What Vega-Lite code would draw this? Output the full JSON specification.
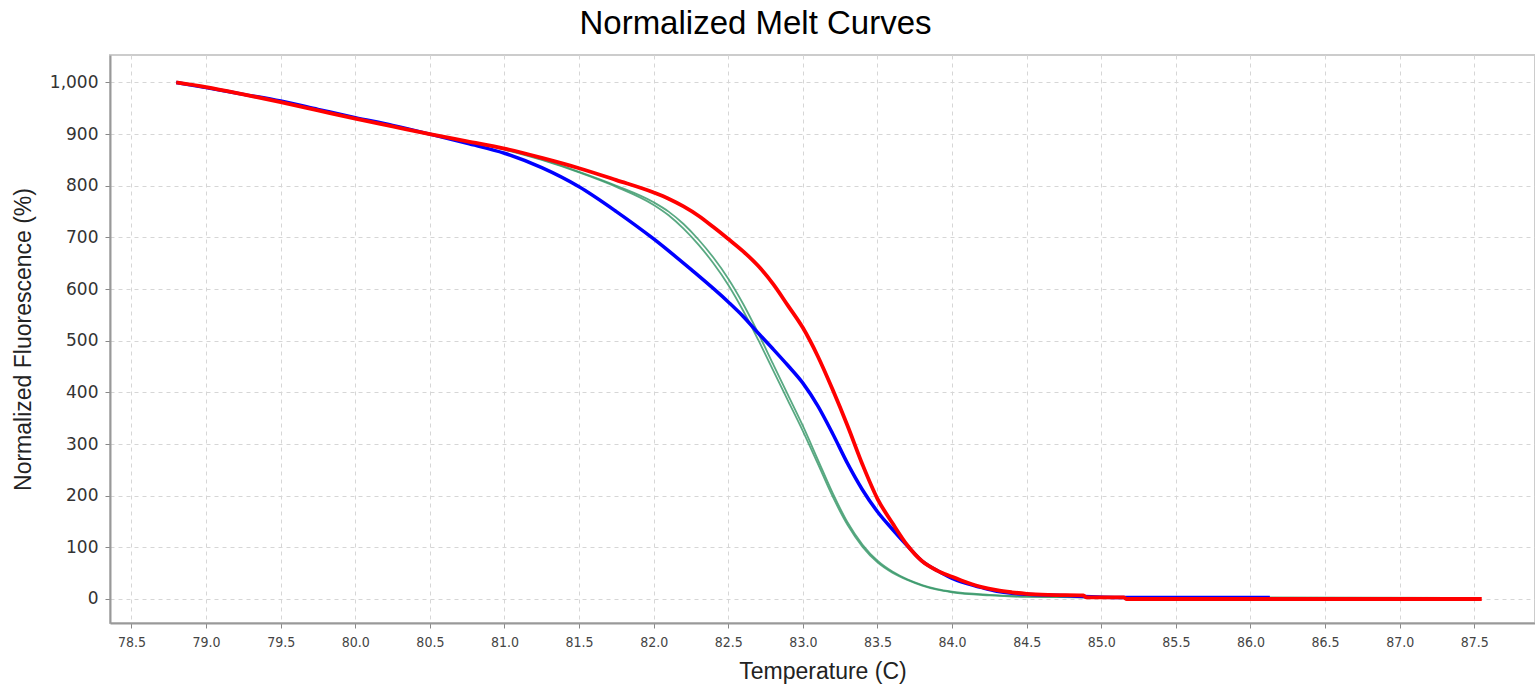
{
  "$schema": "https://vega.github.io/schema/vega-lite/v6.json",
  "width": 1425,
  "height": 568,
  "autosize": "none",
  "padding": {"left": 110, "top": 55, "right": 0, "bottom": 63},
  "background": "white",
  "title": {
    "text": "Normalized Melt Curves",
    "font": "Liberation Sans",
    "fontSize": 33,
    "fontWeight": "normal",
    "color": "#000000",
    "frame": "group",
    "anchor": "middle",
    "dx": -67,
    "dy": 30,
    "baseline": "alphabetic",
    "offset": 18
  },
  "config": {
    "view": {"stroke": "#cccccc", "strokeWidth": 2},
    "axis": {
      "grid": true,
      "gridColor": "#d6d6d6",
      "gridDash": [4, 4],
      "gridWidth": 1,
      "domainColor": "#999999",
      "domainWidth": 2,
      "tickColor": "#888888",
      "tickSize": 5,
      "titleFont": "Liberation Sans",
      "titleFontSize": 23,
      "titleFontWeight": "normal",
      "titleColor": "#222222"
    }
  },
  "data": {
    "values": [
      {"series": "red", "t": 78.80, "f": 1000}, {"series": "red", "t": 79.00, "f": 991}, {"series": "red", "t": 79.25, "f": 977}, {"series": "red", "t": 79.50, "f": 962}, {"series": "red", "t": 79.75, "f": 946}, {"series": "red", "t": 80.00, "f": 930}, {"series": "red", "t": 80.25, "f": 915}, {"series": "red", "t": 80.50, "f": 900}, {"series": "red", "t": 80.75, "f": 886}, {"series": "red", "t": 81.00, "f": 872}, {"series": "red", "t": 81.25, "f": 854}, {"series": "red", "t": 81.50, "f": 834}, {"series": "red", "t": 81.75, "f": 811}, {"series": "red", "t": 82.00, "f": 787}, {"series": "red", "t": 82.10, "f": 775}, {"series": "red", "t": 82.20, "f": 760}, {"series": "red", "t": 82.30, "f": 742}, {"series": "red", "t": 82.40, "f": 720}, {"series": "red", "t": 82.50, "f": 697}, {"series": "red", "t": 82.60, "f": 673}, {"series": "red", "t": 82.70, "f": 645}, {"series": "red", "t": 82.80, "f": 610}, {"series": "red", "t": 82.90, "f": 568}, {"series": "red", "t": 83.00, "f": 525}, {"series": "red", "t": 83.10, "f": 470}, {"series": "red", "t": 83.20, "f": 405}, {"series": "red", "t": 83.30, "f": 335}, {"series": "red", "t": 83.40, "f": 260}, {"series": "red", "t": 83.50, "f": 194}, {"series": "red", "t": 83.60, "f": 147}, {"series": "red", "t": 83.70, "f": 104}, {"series": "red", "t": 83.80, "f": 73}, {"series": "red", "t": 83.90, "f": 55}, {"series": "red", "t": 84.00, "f": 43}, {"series": "red", "t": 84.10, "f": 32}, {"series": "red", "t": 84.20, "f": 23}, {"series": "red", "t": 84.30, "f": 17}, {"series": "red", "t": 84.40, "f": 13}, {"series": "red", "t": 84.50, "f": 10}, {"series": "red", "t": 84.65, "f": 8}, {"series": "red", "t": 84.88, "f": 7}, {"series": "red", "t": 84.90, "f": 3}, {"series": "red", "t": 85.15, "f": 3}, {"series": "red", "t": 85.17, "f": 0}, {"series": "red", "t": 87.55, "f": 0},
      {"series": "blue", "t": 78.80, "f": 1000}, {"series": "blue", "t": 79.00, "f": 990}, {"series": "blue", "t": 79.25, "f": 977}, {"series": "blue", "t": 79.50, "f": 964}, {"series": "blue", "t": 79.75, "f": 948}, {"series": "blue", "t": 80.00, "f": 932}, {"series": "blue", "t": 80.25, "f": 917}, {"series": "blue", "t": 80.50, "f": 900}, {"series": "blue", "t": 80.75, "f": 882}, {"series": "blue", "t": 81.00, "f": 863}, {"series": "blue", "t": 81.25, "f": 835}, {"series": "blue", "t": 81.50, "f": 798}, {"series": "blue", "t": 81.75, "f": 750}, {"series": "blue", "t": 82.00, "f": 697}, {"series": "blue", "t": 82.25, "f": 638}, {"series": "blue", "t": 82.50, "f": 575}, {"series": "blue", "t": 82.60, "f": 547}, {"series": "blue", "t": 82.70, "f": 515}, {"series": "blue", "t": 82.80, "f": 484}, {"series": "blue", "t": 82.90, "f": 452}, {"series": "blue", "t": 83.00, "f": 418}, {"series": "blue", "t": 83.10, "f": 374}, {"series": "blue", "t": 83.20, "f": 320}, {"series": "blue", "t": 83.30, "f": 262}, {"series": "blue", "t": 83.40, "f": 211}, {"series": "blue", "t": 83.50, "f": 169}, {"series": "blue", "t": 83.60, "f": 135}, {"series": "blue", "t": 83.70, "f": 103}, {"series": "blue", "t": 83.80, "f": 73}, {"series": "blue", "t": 83.90, "f": 55}, {"series": "blue", "t": 84.00, "f": 40}, {"series": "blue", "t": 84.10, "f": 30}, {"series": "blue", "t": 84.20, "f": 22}, {"series": "blue", "t": 84.30, "f": 15}, {"series": "blue", "t": 84.40, "f": 11}, {"series": "blue", "t": 84.50, "f": 9}, {"series": "blue", "t": 84.70, "f": 7}, {"series": "blue", "t": 85.15, "f": 3}, {"series": "blue", "t": 86.13, "f": 3},
      {"series": "green1", "t": 78.80, "f": 1000}, {"series": "green1", "t": 79.50, "f": 963}, {"series": "green1", "t": 80.00, "f": 931}, {"series": "green1", "t": 80.50, "f": 900}, {"series": "green1", "t": 80.75, "f": 886}, {"series": "green1", "t": 81.00, "f": 871}, {"series": "green1", "t": 81.25, "f": 851}, {"series": "green1", "t": 81.50, "f": 827}, {"series": "green1", "t": 81.75, "f": 800}, {"series": "green1", "t": 82.00, "f": 768}, {"series": "green1", "t": 82.10, "f": 750}, {"series": "green1", "t": 82.20, "f": 726}, {"series": "green1", "t": 82.30, "f": 696}, {"series": "green1", "t": 82.40, "f": 661}, {"series": "green1", "t": 82.50, "f": 620}, {"series": "green1", "t": 82.60, "f": 571}, {"series": "green1", "t": 82.70, "f": 515}, {"series": "green1", "t": 82.80, "f": 455}, {"series": "green1", "t": 82.90, "f": 395}, {"series": "green1", "t": 83.00, "f": 335}, {"series": "green1", "t": 83.10, "f": 270}, {"series": "green1", "t": 83.20, "f": 205}, {"series": "green1", "t": 83.30, "f": 148}, {"series": "green1", "t": 83.40, "f": 105}, {"series": "green1", "t": 83.50, "f": 74}, {"series": "green1", "t": 83.60, "f": 53}, {"series": "green1", "t": 83.70, "f": 38}, {"series": "green1", "t": 83.80, "f": 27}, {"series": "green1", "t": 83.90, "f": 19}, {"series": "green1", "t": 84.00, "f": 14}, {"series": "green1", "t": 84.25, "f": 8}, {"series": "green1", "t": 84.50, "f": 5}, {"series": "green1", "t": 85.00, "f": 3}, {"series": "green1", "t": 87.40, "f": 2},
      {"series": "green2", "t": 78.80, "f": 1000}, {"series": "green2", "t": 79.50, "f": 963}, {"series": "green2", "t": 80.00, "f": 931}, {"series": "green2", "t": 80.50, "f": 900}, {"series": "green2", "t": 81.00, "f": 870}, {"series": "green2", "t": 81.25, "f": 850}, {"series": "green2", "t": 81.50, "f": 826}, {"series": "green2", "t": 81.75, "f": 798}, {"series": "green2", "t": 82.00, "f": 763}, {"series": "green2", "t": 82.10, "f": 743}, {"series": "green2", "t": 82.20, "f": 717}, {"series": "green2", "t": 82.30, "f": 686}, {"series": "green2", "t": 82.40, "f": 650}, {"series": "green2", "t": 82.50, "f": 608}, {"series": "green2", "t": 82.60, "f": 558}, {"series": "green2", "t": 82.70, "f": 502}, {"series": "green2", "t": 82.80, "f": 443}, {"series": "green2", "t": 82.90, "f": 384}, {"series": "green2", "t": 83.00, "f": 325}, {"series": "green2", "t": 83.10, "f": 262}, {"series": "green2", "t": 83.20, "f": 198}, {"series": "green2", "t": 83.30, "f": 143}, {"series": "green2", "t": 83.40, "f": 101}, {"series": "green2", "t": 83.50, "f": 71}, {"series": "green2", "t": 83.60, "f": 51}, {"series": "green2", "t": 83.70, "f": 37}, {"series": "green2", "t": 83.80, "f": 26}, {"series": "green2", "t": 83.90, "f": 18}, {"series": "green2", "t": 84.00, "f": 13}, {"series": "green2", "t": 84.25, "f": 7}, {"series": "green2", "t": 84.50, "f": 4}, {"series": "green2", "t": 85.00, "f": 3}, {"series": "green2", "t": 87.40, "f": 2}
    ]
  },
  "encoding": {
    "x": {
      "field": "t",
      "type": "quantitative",
      "scale": {"domain": [78.356, 87.907], "nice": false, "zero": false},
      "axis": {
        "title": "Temperature (C)",
        "values": [78.5, 79, 79.5, 80, 80.5, 81, 81.5, 82, 82.5, 83, 83.5, 84, 84.5, 85, 85.5, 86, 86.5, 87, 87.5],
        "format": ".1f",
        "labelFont": "'DejaVu Sans Condensed', 'Liberation Sans', sans-serif",
        "labelFontSize": 14,
        "labelColor": "#444444",
        "labelPadding": 7,
        "titlePadding": 11
      }
    },
    "y": {
      "field": "f",
      "type": "quantitative",
      "scale": {"domain": [-46.5, 1053.2], "nice": false, "zero": false},
      "axis": {
        "title": "Normalized Fluorescence (%)",
        "values": [0, 100, 200, 300, 400, 500, 600, 700, 800, 900, 1000],
        "format": ",.0f",
        "labelFont": "DejaVu Sans",
        "labelFontSize": 17,
        "labelColor": "#333333",
        "labelPadding": 7,
        "titlePadding": 14
      }
    }
  },
  "layer": [
    {
      "transform": [{"filter": "datum.series === 'green1' || datum.series === 'green2'"}],
      "mark": {"type": "line", "color": "#3c9a6c", "strokeWidth": 1.8, "opacity": 0.85, "interpolate": "monotone"},
      "encoding": {"detail": {"field": "series"}}
    },
    {
      "transform": [{"filter": "datum.series === 'blue'"}],
      "mark": {"type": "line", "color": "#0000ff", "strokeWidth": 3.5, "interpolate": "monotone"},
      "encoding": {}
    },
    {
      "transform": [{"filter": "datum.series === 'red'"}],
      "mark": {"type": "line", "color": "#ff0000", "strokeWidth": 3.8, "interpolate": "monotone"},
      "encoding": {}
    }
  ]
}
